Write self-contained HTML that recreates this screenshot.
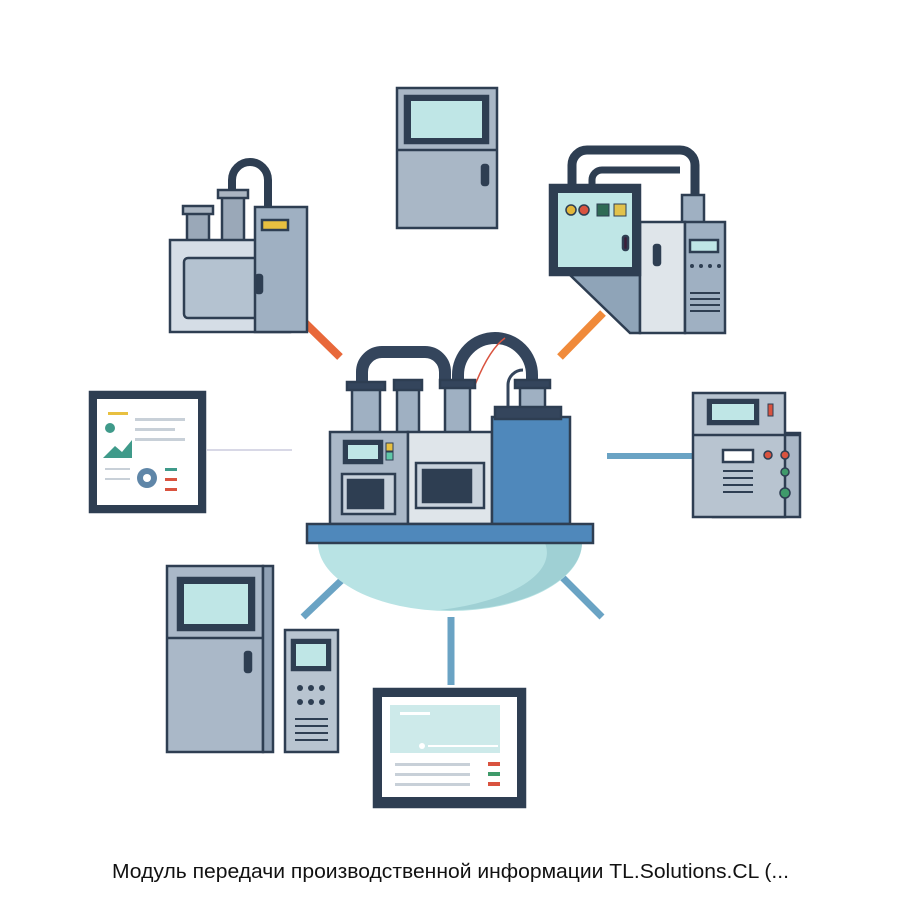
<!DOCTYPE html>
<html><head><meta charset="utf-8"><style>
html,body{margin:0;padding:0;background:#fff}
svg{display:block}
</style></head><body>
<svg width="900" height="900" viewBox="0 0 900 900" xmlns="http://www.w3.org/2000/svg" font-family="Liberation Sans, sans-serif">
<g stroke-linecap="butt">
<line x1="297" y1="315" x2="340" y2="357" stroke="#e8683a" stroke-width="8"/>
<line x1="603" y1="313" x2="560" y2="357" stroke="#f08a3a" stroke-width="8"/>
<line x1="607" y1="456" x2="692" y2="456" stroke="#6aa3c4" stroke-width="6"/>
<line x1="207" y1="450" x2="292" y2="450" stroke="#ccd" stroke-width="1.5"/>
<line x1="303" y1="617" x2="345" y2="577" stroke="#6aa3c4" stroke-width="7"/>
<line x1="451" y1="617" x2="451" y2="685" stroke="#6aa3c4" stroke-width="7"/>
<line x1="560" y1="575" x2="602" y2="617" stroke="#6aa3c4" stroke-width="7"/>
</g>
<g stroke="#2e3e52" stroke-width="2.5">
<rect x="397" y="88" width="100" height="140" fill="#a9b7c6"/>
<rect x="405" y="96" width="83" height="47" fill="#2e3e52"/>
<rect x="411" y="101" width="71" height="37" fill="#bfe6e6" stroke="none"/>
<line x1="397" y1="150" x2="497" y2="150"/>
<rect x="482" y="165" width="6" height="20" rx="2" fill="#2e3e52"/>
<path d="M232 200 V180 a18 18 0 0 1 36 0 V215" fill="none" stroke="#2e3e52" stroke-width="8"/>
<rect x="187" y="210" width="22" height="32" fill="#9aa8b8"/>
<rect x="183" y="206" width="30" height="8" fill="#aab5c2"/>
<rect x="222" y="195" width="22" height="47" fill="#9aa8b8"/>
<rect x="218" y="190" width="30" height="8" fill="#aab5c2"/>
<rect x="170" y="240" width="120" height="92" fill="#d5dde6"/>
<rect x="184" y="258" width="80" height="60" rx="4" fill="#b4c2d0"/>
<rect x="255" y="207" width="52" height="125" fill="#9fb0c2"/>
<rect x="262" y="220" width="26" height="10" fill="#e8c040"/>
<rect x="256" y="275" width="6" height="18" rx="2" fill="#2e3e52"/>
<path d="M572 190 V165 a15 15 0 0 1 15 -15 H680 a15 15 0 0 1 15 15 V200" fill="none" stroke="#2e3e52" stroke-width="9"/>
<path d="M592 190 V180 a10 10 0 0 1 10 -10 H680" fill="none" stroke="#2e3e52" stroke-width="7"/>
<rect x="682" y="195" width="22" height="35" fill="#9fb0c2"/>
<path d="M570 275 L640 275 L640 333 L630 333 Z" fill="#8fa4b8"/>
<rect x="640" y="222" width="45" height="111" fill="#dfe5ea"/>
<rect x="685" y="222" width="40" height="111" fill="#9fb0c2"/>
<rect x="690" y="240" width="28" height="12" fill="#bfe6e6"/>
<rect x="654" y="245" width="6" height="20" rx="2" fill="#2e3e52"/>
<g stroke="none" fill="#2e3e52"><circle cx="692" cy="266" r="2"/><circle cx="701" cy="266" r="2"/><circle cx="710" cy="266" r="2"/><circle cx="719" cy="266" r="2"/><rect x="690" y="292" width="30" height="2"/><rect x="690" y="298" width="30" height="2"/><rect x="690" y="304" width="30" height="2"/><rect x="690" y="310" width="30" height="2"/></g>
<rect x="550" y="185" width="90" height="90" fill="#2e3e52"/>
<rect x="558" y="193" width="74" height="74" fill="#bfe6e6" stroke="none"/>
<circle cx="571" cy="210" r="5" fill="#e2b63a" stroke-width="1.5"/>
<circle cx="584" cy="210" r="5" fill="#d9533f" stroke-width="1.5"/>
<rect x="597" y="204" width="12" height="12" fill="#2f6a55" stroke-width="1"/>
<rect x="614" y="204" width="12" height="12" fill="#e2c24a" stroke-width="1"/>
<rect x="623" y="236" width="5" height="14" rx="2" fill="#3a1f3a"/>
<rect x="90" y="392" width="115" height="120" fill="#2e3e52"/>
<rect x="97" y="399" width="101" height="106" fill="#fff" stroke="none"/>
<g stroke="none">
<circle cx="110" cy="428" r="5" fill="#3f9a8a"/>
<rect x="108" y="412" width="20" height="3" fill="#e8c040"/>
<rect x="135" y="418" width="50" height="3" fill="#c8d0d8"/><rect x="135" y="428" width="40" height="3" fill="#c8d0d8"/><rect x="135" y="438" width="50" height="3" fill="#c8d0d8"/>
<path d="M103 458 L115 446 L122 452 L132 440 L132 458Z" fill="#3f9a8a"/>
<circle cx="147" cy="478" r="10" fill="#5f86a8"/><circle cx="147" cy="478" r="4" fill="#fff"/>
<rect x="165" y="468" width="12" height="3" fill="#3f9a8a"/><rect x="165" y="478" width="12" height="3" fill="#d9533f"/><rect x="165" y="488" width="12" height="3" fill="#d9533f"/>
<rect x="105" y="468" width="25" height="2" fill="#c8d0d8"/><rect x="105" y="478" width="25" height="2" fill="#c8d0d8"/>
</g>
<rect x="713" y="433" width="87" height="84" fill="#a9b7c6"/>
<rect x="693" y="393" width="92" height="124" fill="#b8c4d0"/>
<rect x="708" y="400" width="50" height="24" fill="#2e3e52"/><rect x="712" y="404" width="42" height="16" fill="#bfe6e6" stroke="none"/>
<rect x="768" y="404" width="5" height="12" fill="#d9533f" stroke-width="1"/>
<line x1="693" y1="435" x2="800" y2="435"/>
<rect x="723" y="450" width="30" height="12" fill="#fff"/>
<g stroke="none" fill="#2e3e52"><rect x="723" y="470" width="30" height="2"/><rect x="723" y="477" width="30" height="2"/><rect x="723" y="484" width="30" height="2"/><rect x="723" y="491" width="30" height="2"/></g>
<circle cx="768" cy="455" r="4" fill="#d9533f" stroke-width="1.5"/><circle cx="785" cy="455" r="4" fill="#d9533f" stroke-width="1.5"/>
<circle cx="785" cy="472" r="4" fill="#3f9a6a" stroke-width="1.5"/><circle cx="785" cy="493" r="5" fill="#3f9a6a" stroke-width="1.5"/>
<rect x="167" y="566" width="96" height="186" fill="#aab8c8"/>
<rect x="263" y="566" width="10" height="186" fill="#8fa0b4"/>
<rect x="178" y="578" width="76" height="52" fill="#2e3e52"/><rect x="184" y="584" width="64" height="40" fill="#bfe6e6" stroke="none"/>
<line x1="167" y1="638" x2="263" y2="638"/>
<rect x="245" y="652" width="6" height="20" rx="2" fill="#2e3e52"/>
<rect x="285" y="630" width="53" height="122" fill="#b8c4d0"/>
<rect x="292" y="640" width="38" height="30" fill="#2e3e52"/><rect x="296" y="644" width="30" height="22" fill="#bfe6e6" stroke="none"/>
<g stroke="none" fill="#2e3e52"><circle cx="300" cy="688" r="3"/><circle cx="311" cy="688" r="3"/><circle cx="322" cy="688" r="3"/><circle cx="300" cy="702" r="3"/><circle cx="311" cy="702" r="3"/><circle cx="322" cy="702" r="3"/><rect x="295" y="718" width="33" height="2"/><rect x="295" y="725" width="33" height="2"/><rect x="295" y="732" width="33" height="2"/><rect x="295" y="739" width="33" height="2"/></g>
<rect x="374" y="689" width="151" height="118" fill="#2e3e52"/>
<rect x="382" y="697" width="135" height="100" fill="#fff" stroke="none"/>
<g stroke="none"><rect x="390" y="705" width="110" height="48" fill="#cdeaea"/><rect x="400" y="712" width="30" height="3" fill="#fff"/><circle cx="422" cy="746" r="3" fill="#fff"/><rect x="428" y="745" width="70" height="2" fill="#fff"/>
<rect x="395" y="763" width="75" height="3" fill="#c8d0d8"/><rect x="395" y="773" width="75" height="3" fill="#c8d0d8"/><rect x="395" y="783" width="75" height="3" fill="#c8d0d8"/>
<rect x="488" y="762" width="12" height="4" fill="#d9533f"/><rect x="488" y="772" width="12" height="4" fill="#3f9a6a"/><rect x="488" y="782" width="12" height="4" fill="#d9533f"/></g>
<path d="M318 543 A132 68 0 0 0 582 543 Z" fill="#b8e3e4" stroke="none"/>
<path d="M582 543 A132 68 0 0 1 440 610 A150 60 0 0 0 545 543 Z" fill="#9fd0d4" stroke="none"/>
<path d="M362 385 V372 a20 20 0 0 1 20 -20 H425 a20 20 0 0 1 20 20 V385" fill="none" stroke="#34455c" stroke-width="12"/>
<path d="M458 382 V375 a37 37 0 0 1 74 0 V385" fill="none" stroke="#34455c" stroke-width="12"/>
<path d="M508 408 V385 a15 15 0 0 1 15 -15" fill="none" stroke="#34455c" stroke-width="3"/>
<path d="M475 385 C485 360 495 345 505 338" fill="none" stroke="#d9533f" stroke-width="1.5"/>
<rect x="352" y="388" width="28" height="45" fill="#9fb0c2"/><rect x="347" y="382" width="38" height="8" fill="#34455c"/>
<rect x="397" y="388" width="22" height="45" fill="#9fb0c2"/><rect x="394" y="380" width="28" height="10" fill="#34455c"/>
<rect x="445" y="385" width="25" height="48" fill="#9fb0c2"/><rect x="440" y="380" width="35" height="8" fill="#34455c"/>
<rect x="520" y="385" width="25" height="25" fill="#9fb0c2"/><rect x="515" y="380" width="35" height="8" fill="#34455c"/>
<rect x="330" y="432" width="78" height="92" fill="#aab8c8"/>
<rect x="344" y="441" width="38" height="22" fill="#2e3e52"/><rect x="348" y="445" width="30" height="14" fill="#bfe6e6" stroke="none"/>
<rect x="386" y="443" width="7" height="8" fill="#e8c040" stroke-width="1"/><rect x="386" y="452" width="7" height="8" fill="#5fc8a8" stroke-width="1"/>
<rect x="342" y="474" width="53" height="40" fill="#c8d2dc"/><rect x="348" y="480" width="35" height="28" fill="#2e3e52"/>
<rect x="408" y="432" width="84" height="92" fill="#dfe5ea"/>
<rect x="416" y="463" width="68" height="45" fill="#c8d2dc"/><rect x="423" y="470" width="48" height="32" fill="#2e3e52"/>
<rect x="492" y="417" width="78" height="107" fill="#4f88bb"/>
<rect x="495" y="407" width="66" height="12" fill="#34455c"/>
<rect x="307" y="524" width="286" height="19" fill="#4f88bb"/>
</g>
<text x="112" y="878" font-size="20.5" textLength="677" lengthAdjust="spacingAndGlyphs" fill="#111">Модуль передачи производственной информации TL.Solutions.CL (...</text>
</svg>
</body></html>
